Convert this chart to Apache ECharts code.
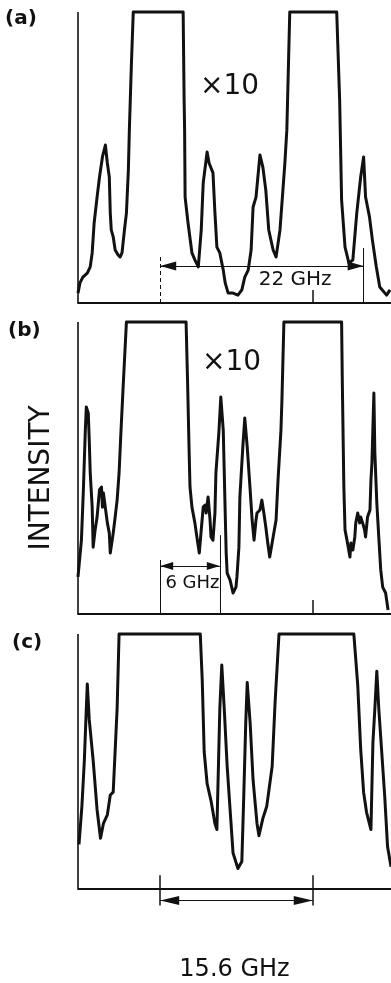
<!DOCTYPE html>
<html>
<head>
<meta charset="utf-8">
<script src="https://cdn.jsdelivr.net/npm/echarts@6/dist/echarts.min.js"></script>
<style>
  html, body { margin: 0; padding: 0; background: #ffffff; }
  #chart { width: 391px; height: 983px; }
</style>
</head>
<body>
<div id="chart"></div>
<script>
// frequency offset (GHz, 0 = first marker) vs. intensity (0..100, 100 = saturated)
const TRACE_A = [
  [-8.4, 3.4], [-8.2, 6.9], [-7.9, 8.9], [-7.45, 10.3], [-7.15, 12.4], [-6.95, 17.2], [-6.75, 27.5],
  [-6.45, 36.4], [-6.2, 43.3], [-5.9, 50.2], [-5.6, 54.3], [-5.4, 48.1], [-5.2, 43.3], [-5.1, 30.9],
  [-5.0, 25.1], [-4.8, 22.7], [-4.6, 18.2], [-4.3, 16.5], [-4.1, 15.8], [-3.9, 17.2], [-3.65, 25.1],
  [-3.45, 30.9], [-3.25, 45.7], [-3.15, 59.4], [-2.95, 81.1], [-2.75, 100], [2.35, 100], [2.45, 69.8],
  [2.5, 59.4], [2.55, 36.4], [2.85, 27.5], [3.25, 17.2], [3.55, 14.8], [3.9, 12.4], [4.2, 25.1],
  [4.4, 41.2], [4.8, 51.9], [5.0, 48.1], [5.4, 44.7], [5.6, 30.9], [5.8, 19.2], [6.1, 17.2],
  [6.45, 11.3], [6.65, 6.9], [6.95, 3.4], [7.45, 3.4], [7.95, 2.7], [8.35, 4.5], [8.65, 8.9],
  [9.0, 11.3], [9.3, 18.2], [9.5, 33.0], [9.8, 36.4], [10.2, 50.9], [10.5, 46.7], [10.8, 38.8],
  [11.1, 25.1], [11.55, 18.2], [11.85, 15.8], [12.05, 15.5], [12.25, 25.1], [12.55, 38.8], [12.75, 48.1],
  [12.95, 59.4], [13.25, 100], [18.05, 100], [18.35, 69.8], [18.55, 35.4], [18.9, 19.2], [19.3, 13.7],
  [19.7, 14.8], [20.1, 30.9], [20.5, 43.3], [20.8, 50.2], [21.0, 36.4], [21.4, 29.6], [21.7, 21.6],
  [22.1, 12.4], [22.45, 5.5], [23.15, 2.7], [23.5, 4.5]
];

const TRACE_B = [
  [-8.4, 12.7], [-8.05, 25.3], [-7.85, 42.5], [-7.65, 63.0], [-7.55, 70.9], [-7.35, 68.8], [-7.25, 59.6],
  [-7.15, 48.3], [-6.95, 36.6], [-6.85, 22.9], [-6.65, 28.8], [-6.45, 33.2], [-6.2, 42.5], [-6.0, 43.5],
  [-5.9, 36.6], [-5.8, 41.4], [-5.6, 41.4], [-5.4, 31.2], [-5.2, 27.7], [-5.1, 20.9], [-4.8, 27.7],
  [-4.6, 33.2], [-4.4, 39.0], [-4.2, 48.3], [-4.0, 63.0], [-3.8, 76.7], [-3.45, 100], [2.65, 100],
  [2.8, 80.0], [2.95, 57.2], [3.05, 43.5], [3.25, 36.6], [3.55, 31.2], [3.8, 25.3], [4.0, 20.9],
  [4.2, 28.8], [4.4, 36.6], [4.6, 37.3], [4.7, 34.6], [4.9, 40.1], [5.1, 32.2], [5.2, 26.4],
  [5.4, 25.3], [5.6, 34.6], [5.7, 48.3], [6.0, 62.0], [6.2, 74.3], [6.45, 63.0], [6.65, 34.6],
  [6.75, 20.9], [6.85, 14.0], [7.15, 11.6], [7.45, 7.2], [7.75, 9.2], [7.85, 12.7], [8.05, 22.9],
  [8.15, 40.1], [8.45, 57.2], [8.65, 67.1], [8.9, 57.2], [9.2, 42.5], [9.4, 32.2], [9.6, 25.3],
  [9.8, 32.2], [9.9, 34.6], [10.2, 35.6], [10.4, 39.0], [10.6, 34.6], [10.8, 29.8], [11.0, 24.3],
  [11.2, 19.5], [11.55, 26.4], [11.85, 32.2], [12.05, 45.9], [12.35, 63.0], [12.45, 73.3], [12.65, 100],
  [18.55, 100], [18.62, 80.0], [18.78, 43.5], [18.9, 28.8], [19.1, 25.3], [19.4, 19.5], [19.5, 24.3],
  [19.7, 21.9], [19.9, 26.4], [20.0, 31.2], [20.2, 34.6], [20.4, 31.2], [20.5, 33.2], [20.7, 31.2],
  [20.9, 28.8], [21.0, 26.4], [21.2, 33.2], [21.45, 35.6], [21.55, 45.9], [21.65, 51.7], [21.85, 75.7],
  [21.95, 55.1], [22.15, 38.0], [22.35, 26.4], [22.55, 15.1], [22.75, 9.2], [23.05, 7.2], [23.3, 1.4]
];

const TRACE_C = [
  [-8.3, 17.3], [-8.0, 32.3], [-7.75, 50.3], [-7.55, 70.7], [-7.45, 80.3], [-7.25, 66.3], [-6.85, 50.3],
  [-6.45, 30.9], [-6.1, 19.7], [-5.8, 25.5], [-5.4, 28.9], [-5.1, 36.7], [-4.8, 37.8], [-4.4, 70.7],
  [-4.2, 100], [4.1, 100], [4.3, 82.0], [4.5, 53.7], [4.8, 41.2], [5.2, 34.4], [5.6, 25.5],
  [5.8, 23.1], [6.1, 70.7], [6.3, 87.8], [6.55, 70.7], [6.85, 48.0], [7.15, 30.9], [7.45, 13.9],
  [7.95, 7.8], [8.35, 10.5], [8.55, 36.7], [8.75, 65.0], [8.9, 80.9], [9.2, 65.0], [9.5, 42.5],
  [9.9, 25.5], [10.1, 20.7], [10.5, 27.5], [10.9, 32.3], [11.45, 48.0], [11.75, 73.1], [12.15, 100],
  [19.8, 100], [20.2, 79.9], [20.5, 54.8], [20.8, 37.8], [21.1, 29.9], [21.55, 23.1], [21.75, 57.1],
  [21.95, 70.7], [22.15, 85.4], [22.35, 70.7], [22.65, 53.7], [22.95, 36.7], [23.25, 16.3], [23.6, 8.5]
];

// vertical markers: [freq, from, to]
const MARKERS_A = [[0, 0, 16.5], [15.6, 0, 4.5], [20.8, 0, 18.9]];
const MARKERS_B = [[0, 0, 18.5], [6.1, 0, 27.0], [15.6, 0, 4.8]];
const MARKERS_C = [[0, -6.8, 5.1], [15.6, -6.8, 5.1]];

// spacing arrows: [from freq, to freq, level]
const SPAN_A = [0, 20.8, 12.7];
const SPAN_B = [0, 6.1, 16.4];
const SPAN_C = [0, 15.6, -4.8];

const PANEL_LABELS = ["(a)", "(b)", "(c)"];
const SPAN_LABELS = ["22 GHz", "6 GHz", "15.6 GHz"];
const SPAN_LABEL_POS = [[13.8, 7.9], [3.3, 10.6], null];
const GAIN_LABEL = "×10";
const GAIN_POS = [[7.1, 74.2], [7.3, 86.0], null];
const Y_TITLE = "INTENSITY";

const X_MIN = -8.4;
const X_MAX = 23.6;
const Y_MAX = 100;

const FONT = '"DejaVu Sans", sans-serif';
const INK = "#111111";

const traces = [TRACE_A, TRACE_B, TRACE_C];
const markers = [MARKERS_A, MARKERS_B, MARKERS_C];
const spans = [SPAN_A, SPAN_B, SPAN_C];
const yMins = [0, 0, -16];
// marker line looks, per panel and marker
const markerLooks = [
  [{ width: 1, type: [4, 3] }, { width: 1.5 }, { width: 1 }],
  [{ width: 1 }, { width: 1 }, { width: 1.5 }],
  [{ width: 1.5 }, { width: 1.5 }]
];
// arrow head [width, length] per panel
const arrowHeads = [[9, 16], [8, 13], [9, 19]];
const grids = [
  { left: 78, right: 0, top: 12, height: 291 },
  { left: 78, right: 0, top: 322, height: 292 },
  { left: 78, right: 0, top: 634, height: 341 }
];

function arrowEnd(size) {
  return { symbol: "triangle", symbolSize: size, symbolOffset: [0, size[1] / 2] };
}

function buildOption() {
  const xAxis = [];
  const yAxis = [];
  const series = [];

  traces.forEach((trace, i) => {
    xAxis.push({
      type: "value",
      gridIndex: i,
      min: X_MIN,
      max: X_MAX,
      axisLine: { show: true, onZero: true, lineStyle: { color: INK, width: 1.8 } },
      axisTick: { show: false },
      axisLabel: { show: false },
      splitLine: { show: false },
      name: i === 2 ? SPAN_LABELS[2] : "",
      nameLocation: "middle",
      nameGap: 29,
      nameTextStyle: { color: INK, fontSize: 24, fontFamily: FONT }
    });
    yAxis.push({
      type: "value",
      gridIndex: i,
      min: yMins[i],
      max: Y_MAX,
      axisLine: { show: false },
      axisTick: { show: false },
      axisLabel: { show: false },
      splitLine: { show: false }
    });

    const lines = [
      [{ coord: [X_MIN, 0], lineStyle: { width: 1.6 } }, { coord: [X_MIN, Y_MAX] }]
    ];
    markers[i].forEach(([f, y0, y1], k) => {
      lines.push([{ coord: [f, y0], lineStyle: markerLooks[i][k] }, { coord: [f, y1] }]);
    });
    const [f0, f1, level] = spans[i];
    lines.push([
      { coord: [f0, level], lineStyle: { width: 1.2 }, ...arrowEnd(arrowHeads[i]) },
      { coord: [f1, level], ...arrowEnd(arrowHeads[i]) }
    ]);

    const points = [];
    if (GAIN_POS[i]) {
      points.push({ name: GAIN_LABEL, coord: GAIN_POS[i], label: { fontSize: 28 } });
    }
    if (SPAN_LABEL_POS[i]) {
      points.push({ name: SPAN_LABELS[i], coord: SPAN_LABEL_POS[i], label: { fontSize: i === 0 ? 20 : 18 } });
    }

    series.push({
      type: "line",
      xAxisIndex: i,
      yAxisIndex: i,
      data: trace,
      showSymbol: false,
      clip: false,
      silent: true,
      lineStyle: { color: INK, width: 3, join: "round" },
      markLine: {
        silent: true,
        animation: false,
        symbol: "none",
        label: { show: false },
        lineStyle: { color: INK, type: "solid", width: 1 },
        itemStyle: { color: INK },
        emphasis: { disabled: true },
        data: lines
      },
      markPoint: {
        silent: true,
        animation: false,
        symbol: "rect",
        symbolSize: 1,
        itemStyle: { color: "rgba(0,0,0,0)" },
        label: {
          show: true,
          position: "inside",
          formatter: "{b}",
          color: INK,
          fontFamily: FONT
        },
        data: points
      }
    });
  });

  const title = PANEL_LABELS.map((text, i) => ({
    text,
    left: [0, 3, 7][i],
    top: [4, 316, 628][i],
    textStyle: { color: INK, fontSize: 20, fontWeight: "bold", fontFamily: FONT }
  }));

  return {
    animation: false,
    backgroundColor: "#ffffff",
    title,
    grid: grids,
    xAxis,
    yAxis,
    series,
    graphic: [
      {
        type: "text",
        x: 42,
        y: 478,
        rotation: Math.PI / 2,
        silent: true,
        style: {
          text: Y_TITLE,
          fill: INK,
          fontSize: 28,
          fontFamily: FONT,
          align: "center",
          verticalAlign: "middle"
        }
      }
    ]
  };
}

const chart = echarts.init(document.getElementById("chart"));
chart.setOption(buildOption());
</script>
</body>
</html>
